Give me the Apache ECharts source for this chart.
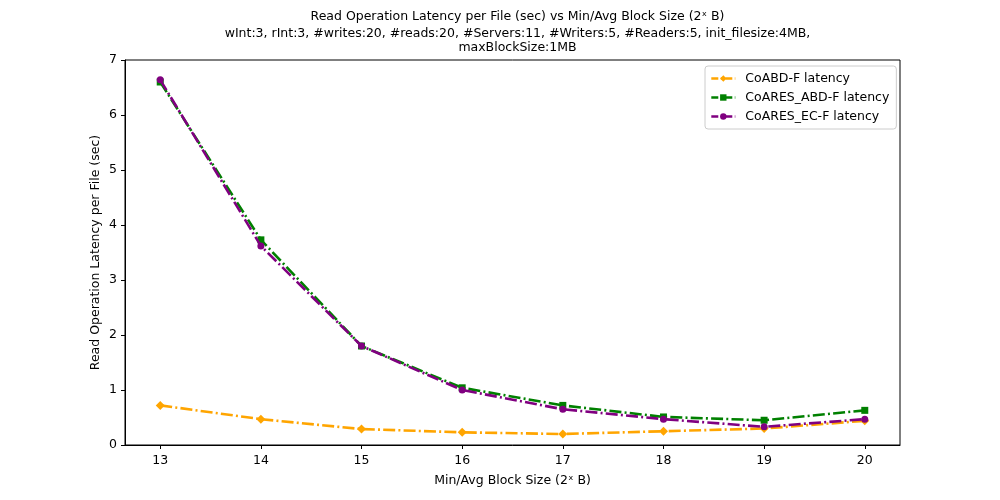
<!DOCTYPE html>
<html>
<head>
<meta charset="utf-8">
<script src="https://cdn.jsdelivr.net/npm/echarts@6/dist/echarts.min.js"></script>
<style>
  html, body { margin: 0; padding: 0; background: #fff; }
  #main { width: 1000px; height: 500px; }
</style>
</head>
<body>
<div id="main"></div>
<script>
var blockSizes = [13, 14, 15, 16, 17, 18, 19, 20];
var coAbdF = [0.72, 0.47, 0.29, 0.23, 0.20, 0.25, 0.30, 0.44];
var coAresAbdF = [6.60, 3.73, 1.80, 1.04, 0.72, 0.51, 0.45, 0.63];
var coAresEcF = [6.64, 3.62, 1.80, 1.00, 0.65, 0.47, 0.33, 0.47];

function pairs(vals) {
    return blockSizes.map(function (x, i) { return [x, vals[i]]; });
}

var font = 'DejaVu Sans';
var fs = 12.5;
var dashDot = [12, 3.2, 2, 3.2];

var myChart = echarts.init(document.getElementById('main'));
var option = {
    animation: false,
    backgroundColor: '#fff',
    textStyle: { fontFamily: font },
    title: {
        left: 512.5,
        textAlign: 'center',
        top: 4,
        itemGap: 3,
        text: 'Read Operation Latency per File (sec) vs Min/Avg Block Size (2\u02e3 B)',
        subtext: 'wInt:3, rInt:3, #writes:20, #reads:20, #Servers:11, #Writers:5, #Readers:5, init_filesize:4MB,\nmaxBlockSize:1MB',
        textStyle: { fontFamily: font, fontSize: fs, fontWeight: 'normal', color: '#000', lineHeight: 15 },
        subtextStyle: { fontFamily: font, fontSize: fs, color: '#000', lineHeight: 14, align: 'center' }
    },
    legend: {
        orient: 'vertical',
        left: 705,
        top: 66,
        padding: [6, 7, 6, 5],
        itemGap: 6,
        itemWidth: 24,
        itemHeight: 8,
        borderColor: '#ccc',
        borderWidth: 1,
        borderRadius: 3,
        lineStyle: { type: [7, 2.5, 2, 2.5], width: 2.6 },
        textStyle: { fontFamily: font, fontSize: fs, color: '#000', padding: [0, 0, 0, 5] },
        data: ['CoABD-F latency', 'CoARES_ABD-F latency', 'CoARES_EC-F latency']
    },
    grid: {
        left: 125,
        right: 100,
        top: 60,
        bottom: 55,
        show: true,
        borderColor: '#000',
        borderWidth: 1
    },
    xAxis: {
        type: 'value',
        min: 12.65,
        max: 20.35,
        name: 'Min/Avg Block Size (2\u02e3 B)',
        nameLocation: 'middle',
        nameGap: 29,
        nameMoveOverlap: false,
        nameTextStyle: { fontFamily: font, fontSize: fs, color: '#000' },
        axisLine: { show: true, lineStyle: { color: '#000' } },
        axisTick: { show: true, length: 4, customValues: blockSizes, lineStyle: { color: '#000' } },
        axisLabel: { fontFamily: font, fontSize: fs, color: '#000', margin: 9, customValues: blockSizes },
        splitLine: { show: false }
    },
    yAxis: {
        type: 'value',
        min: 0,
        max: 7,
        interval: 1,
        name: 'Read Operation Latency per File (sec)',
        nameLocation: 'middle',
        nameGap: 23,
        nameMoveOverlap: false,
        nameTextStyle: { fontFamily: font, fontSize: fs, color: '#000' },
        axisLine: { show: true, lineStyle: { color: '#000' } },
        axisTick: { show: true, length: 4, lineStyle: { color: '#000' } },
        axisLabel: { fontFamily: font, fontSize: fs, color: '#000', margin: 8 },
        splitLine: { show: false }
    },
    series: [{
        name: 'CoABD-F latency',
        type: 'line',
        data: pairs(coAbdF),
        symbol: 'diamond',
        symbolSize: 9,
        color: '#ffa500',
        lineStyle: { width: 2.6, type: dashDot },
        z: 3
    }, {
        name: 'CoARES_ABD-F latency',
        type: 'line',
        data: pairs(coAresAbdF),
        symbol: 'rect',
        symbolSize: 7,
        color: '#008000',
        lineStyle: { width: 2.6, type: dashDot },
        z: 4
    }, {
        name: 'CoARES_EC-F latency',
        type: 'line',
        data: pairs(coAresEcF),
        symbol: 'circle',
        symbolSize: 7,
        color: '#800080',
        lineStyle: { width: 2.6, type: dashDot },
        z: 5
    }]
};
myChart.setOption(option);
</script>
</body>
</html>
